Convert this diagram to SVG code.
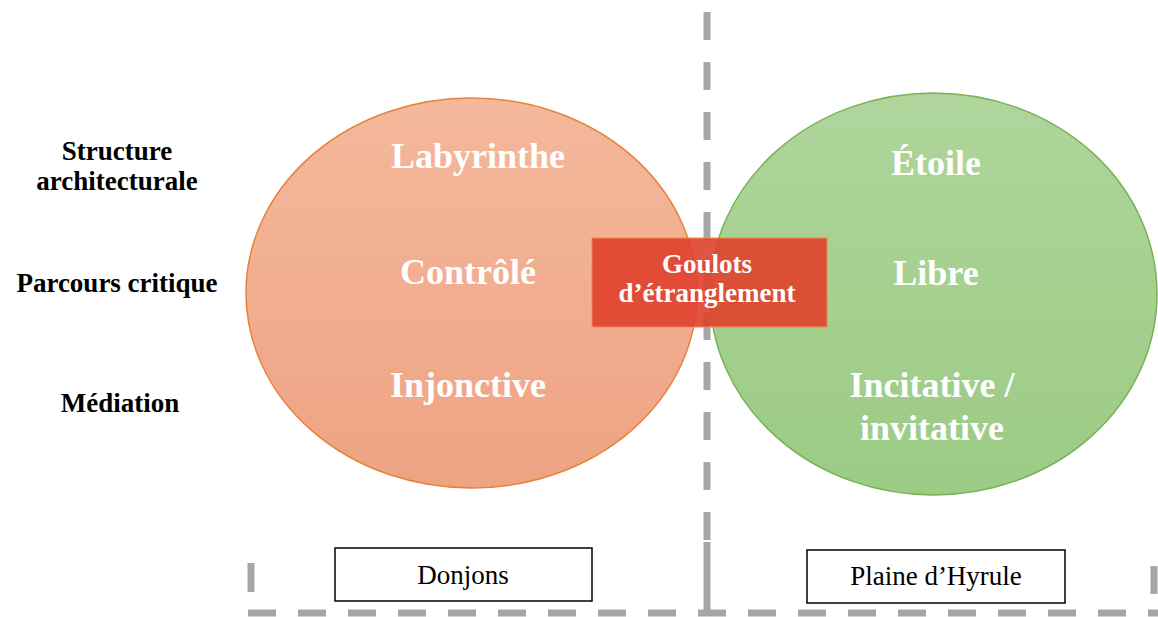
<svg xmlns="http://www.w3.org/2000/svg" width="1158" height="617" viewBox="0 0 1158 617">
<defs>
<linearGradient id="gOr" x1="0" y1="0" x2="0" y2="1">
<stop offset="0" stop-color="#F4B89C"/>
<stop offset="1" stop-color="#EEA383"/>
</linearGradient>
<linearGradient id="gGr" x1="0" y1="0" x2="0" y2="1">
<stop offset="0" stop-color="#AFD59C"/>
<stop offset="1" stop-color="#9BCB84"/>
</linearGradient>
<style>
.dash{stroke:#A6A6A6;stroke-width:7;fill:none;stroke-dasharray:28 22}
.solid{stroke:#A6A6A6;stroke-width:7;fill:none}
.lab{font-family:"Liberation Serif","Times New Roman",serif;font-weight:bold;font-size:27px;fill:#000;text-anchor:middle}
.big{font-family:"Liberation Serif","Times New Roman",serif;font-weight:bold;font-size:36px;fill:#FFFFFF;text-anchor:middle}
.mid{font-family:"Liberation Serif","Times New Roman",serif;font-weight:bold;font-size:27px;fill:#FFFFFF;text-anchor:middle}
.box{fill:#FFFFFF;stroke:#000;stroke-width:1.5}
.boxt{font-family:"Liberation Serif","Times New Roman",serif;font-size:27px;fill:#000;text-anchor:middle}
</style>
</defs>
<rect width="1158" height="617" fill="#FFFFFF"/>
<g id="connectors">
<line class="dash" x1="707" y1="12" x2="707" y2="540"/>
<line class="solid" x1="707" y1="542" x2="707" y2="613"/>
<line class="dash" x1="248" y1="613" x2="1158" y2="613"/>
<line class="solid" x1="251" y1="563" x2="251" y2="592"/>
<line class="solid" x1="1154" y1="566" x2="1154" y2="594"/>
</g>
<g id="labels">
<text class="lab" x="117" y="160">Structure</text>
<text class="lab" x="117" y="190">architecturale</text>
<text class="lab" x="117" y="292">Parcours critique</text>
<text class="lab" x="120" y="412">Médiation</text>
</g>
<g id="donjons-ellipse">
<ellipse cx="471.5" cy="293" rx="225.5" ry="195" fill="url(#gOr)" stroke="#E8823A" stroke-width="1.5"/>
<text class="big" x="478" y="168">Labyrinthe</text>
<text class="big" x="468" y="284">Contrôlé</text>
<text class="big" x="468" y="397">Injonctive</text>
</g>
<g id="plaine-ellipse">
<ellipse cx="933.5" cy="294" rx="223.5" ry="201" fill="url(#gGr)" stroke="#78B255" stroke-width="1.5"/>
<text class="big" x="936" y="175">Étoile</text>
<text class="big" x="936" y="285">Libre</text>
<text class="big" x="932" y="397">Incitative /</text>
<text class="big" x="932" y="440">invitative</text>
</g>
<g id="goulots">
<rect x="592" y="238" width="235" height="89" fill="#E0402C" fill-opacity="0.9" stroke="#F08A4B" stroke-width="1"/>
<text class="mid" x="707" y="273">Goulots</text>
<text class="mid" x="707" y="302">d’étranglement</text>
</g>
<g id="donjons-box">
<rect class="box" x="335" y="548" width="257" height="53"/>
<text class="boxt" x="463" y="584">Donjons</text>
</g>
<g id="plaine-box">
<rect class="box" x="807" y="550" width="258" height="53"/>
<text class="boxt" x="936" y="585">Plaine d’Hyrule</text>
</g>
</svg>
